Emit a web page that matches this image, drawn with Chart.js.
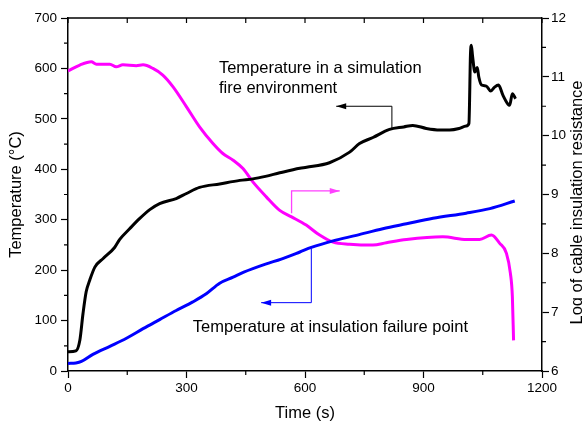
<!DOCTYPE html>
<html>
<head>
<meta charset="utf-8">
<script src="https://cdn.jsdelivr.net/npm/chart.js@4/dist/chart.umd.min.js"></script>
<style>
  body { margin: 0; background: #fff; }
  canvas { display: block; }
</style>
</head>
<body>
<canvas id="chart-fire" width="582" height="424"></canvas>
<script>
// Temperature in a simulation fire environment (left axis, deg C)
var fireTime = [0, 20, 30, 38, 46, 55, 68, 89, 118, 131, 156, 181, 207, 232, 274, 300, 333, 384, 435, 468, 500, 536, 587, 604, 662, 713, 738, 772, 814, 850, 873, 907, 941, 966, 990, 1008, 1015, 1019, 1021, 1024, 1030, 1036, 1040, 1047, 1059, 1070, 1080, 1090, 1101, 1114, 1118, 1125, 1133];
var fireTemp = [38, 40, 61, 114, 157, 180, 206, 223, 245, 261, 282, 302, 320, 332, 342, 352, 364, 371, 378, 381, 386, 393, 402, 404, 413, 434, 451, 463, 479, 484, 487, 481, 478, 478, 481, 486, 491, 630, 646, 626, 593, 602, 583, 567, 565, 555, 563, 567, 547, 529, 527, 550, 540];

// Temperature at insulation failure point (left axis, deg C)
var failTime = [0, 20, 34, 63, 106, 148, 190, 232, 274, 316, 350, 384, 418, 445, 500, 540, 587, 616, 671, 730, 797, 857, 924, 1008, 1068, 1131];
var failTemp = [15, 16, 19, 33, 49, 65, 84, 102, 120, 137, 153, 174, 186, 196, 212, 222, 236, 245, 258, 269, 282, 292, 303, 313, 322, 337];

// Log of cable insulation resistance (right axis)
var resTime = [0, 30, 59, 72, 106, 122, 139, 173, 190, 215, 240, 266, 300, 333, 367, 392, 418, 443, 468, 502, 536, 566, 603, 637, 671, 713, 772, 806, 857, 949, 1009, 1042, 1072, 1093, 1110, 1120, 1125, 1128];
var resLog = [11.1, 11.2, 11.255, 11.216, 11.216, 11.17, 11.204, 11.19, 11.204, 11.143, 11.03, 10.83, 10.49, 10.15, 9.867, 9.697, 9.583, 9.44, 9.214, 8.96, 8.73, 8.62, 8.48, 8.31, 8.19, 8.155, 8.14, 8.18, 8.235, 8.28, 8.235, 8.235, 8.31, 8.17, 8.0, 7.66, 7.26, 6.52];

var xTicks = [0, 300, 600, 900, 1200];
var leftTicks = [0, 100, 200, 300, 400, 500, 600, 700];
var rightTicks = [6, 7, 8, 9, 10, 11, 12];

function toPoints(xs, ys) {
    return xs.map(function (x, i) { return { x: x, y: ys[i] }; });
}

var FONT = 'Arial, "Liberation Sans", sans-serif';

// extra bits: top border, minor ticks, annotation texts/arrows, right axis title
var extras = {
    id: 'extras',
    afterDraw: function (chart) {
        var ctx = chart.ctx;
        var a = chart.chartArea;
        var sx = chart.scales.x, sy = chart.scales.y, sr = chart.scales.y2;
        ctx.save();
        ctx.strokeStyle = '#000';
        ctx.lineWidth = 1.5;
        ctx.beginPath();
        ctx.moveTo(a.left, a.top);
        ctx.lineTo(a.right, a.top);
        ctx.stroke();

        ctx.lineWidth = 1.2;
        ctx.beginPath();
        for (var t = 0; t <= 1200; t += 150) {
            var px = sx.getPixelForValue(t);
            ctx.moveTo(px, a.top);
            ctx.lineTo(px, a.top + 5);
            if (t % 300 !== 0) {
                ctx.moveTo(px, a.bottom);
                ctx.lineTo(px, a.bottom + 4);
            }
        }
        for (var v = 50; v < 700; v += 100) {
            var py = sy.getPixelForValue(v);
            ctx.moveTo(a.left, py);
            ctx.lineTo(a.left - 4, py);
        }
        for (var r = 6.5; r < 12; r += 1) {
            var pr = sr.getPixelForValue(r);
            ctx.moveTo(a.right, pr);
            ctx.lineTo(a.right + 4, pr);
        }
        ctx.stroke();

        function arrow(color, pts, width) {
            ctx.strokeStyle = color;
            ctx.fillStyle = color;
            ctx.lineWidth = width;
            ctx.beginPath();
            ctx.moveTo(pts[0][0], pts[0][1]);
            for (var i = 1; i < pts.length; i++) ctx.lineTo(pts[i][0], pts[i][1]);
            ctx.stroke();
            var p1 = pts[pts.length - 2], p2 = pts[pts.length - 1];
            var ang = Math.atan2(p2[1] - p1[1], p2[0] - p1[0]);
            ctx.beginPath();
            ctx.moveTo(p2[0], p2[1]);
            ctx.lineTo(p2[0] - 10 * Math.cos(ang) + 3 * Math.sin(ang), p2[1] - 10 * Math.sin(ang) - 3 * Math.cos(ang));
            ctx.lineTo(p2[0] - 10 * Math.cos(ang) - 3 * Math.sin(ang), p2[1] - 10 * Math.sin(ang) + 3 * Math.cos(ang));
            ctx.closePath();
            ctx.fill();
        }
        var X = function (t) { return sx.getPixelForValue(t); };
        var Y = function (v) { return sy.getPixelForValue(v); };
        var R = function (v) { return sr.getPixelForValue(v); };

        arrow('#000', [[X(820), Y(481)], [X(820), Y(525)], [X(679), Y(525)]], 1);
        arrow('#ff40ff', [[X(566), R(8.68)], [X(566), R(9.06)], [X(688), R(9.06)]], 1.3);
        arrow('#0000ff', [[X(616), Y(243)], [X(616), Y(135.5)], [X(489), Y(135.5)]], 1);

        ctx.fillStyle = '#000';
        ctx.font = '16.5px ' + FONT;
        ctx.textAlign = 'left';
        ctx.textBaseline = 'alphabetic';
        ctx.fillText('Temperature in a simulation', X(382), Y(590));
        ctx.fillText('fire environment', X(382), Y(551));
        ctx.fillText('Temperature at insulation failure point', X(316), Y(77));

        ctx.translate(577, (a.top + a.bottom) / 2 + 8);
        ctx.rotate(-Math.PI / 2);
        ctx.textAlign = 'center';
        ctx.textBaseline = 'middle';
        ctx.fillText('Log of cable insulation resistance', 0, 0);
        ctx.restore();
    }
};

function plainLabel(value) {
    return String(value);
}

function drawFireChart() {
    var ctx = document.getElementById('chart-fire').getContext('2d');
    var tickFont = { family: FONT, size: 13.5 };
    var titleFont = { family: FONT, size: 16.5 };
    var chart = new Chart(ctx, {
        type: 'line',
        data: {
            datasets: [{
                label: 'Temperature in a simulation fire environment',
                data: toPoints(fireTime, fireTemp),
                borderColor: '#000000',
                yAxisID: 'y'
            }, {
                label: 'Temperature at insulation failure point',
                data: toPoints(failTime, failTemp),
                borderColor: '#0000ff',
                yAxisID: 'y'
            }, {
                label: 'Log of cable insulation resistance',
                data: toPoints(resTime, resLog),
                borderColor: '#ff00ff',
                yAxisID: 'y2'
            }]
        },
        options: {
            responsive: false,
            animation: false,
            devicePixelRatio: 1,
            layout: { padding: { top: 18 } },
            elements: {
                point: { radius: 0 },
                line: { borderWidth: 3, tension: 0.3, cubicInterpolationMode: 'monotone', fill: false }
            },
            plugins: { legend: { display: false }, tooltip: { enabled: false } },
            scales: {
                x: {
                    type: 'linear', min: 0, max: 1200,
                    afterBuildTicks: function (s) { s.ticks = xTicks.map(function (v) { return { value: v }; }); },
                    afterFit: function (s) { s.height = 53; },
                    ticks: { font: tickFont, color: '#000', padding: 2, maxRotation: 0, callback: plainLabel },
                    grid: { drawOnChartArea: false, drawTicks: true, tickLength: 7, tickColor: '#000', tickWidth: 1.2 },
                    border: { color: '#000', width: 1.5 },
                    title: { display: true, text: 'Time (s)', font: titleFont, color: '#000', padding: { top: 0, bottom: 1 } }
                },
                y: {
                    position: 'left', min: 0, max: 700,
                    afterBuildTicks: function (s) { s.ticks = leftTicks.map(function (v) { return { value: v }; }); },
                    afterFit: function (s) { s.width = 68; },
                    ticks: { font: tickFont, color: '#000', padding: 4, callback: plainLabel },
                    grid: { drawOnChartArea: false, drawTicks: true, tickLength: 7, tickColor: '#000', tickWidth: 1.2 },
                    border: { color: '#000', width: 1.5 },
                    title: { display: true, text: 'Temperature (°C)', font: titleFont, color: '#000', padding: { top: 7, bottom: 0 } }
                },
                y2: {
                    position: 'right', min: 6, max: 12,
                    afterBuildTicks: function (s) { s.ticks = rightTicks.map(function (v) { return { value: v }; }); },
                    afterFit: function (s) { s.width = 40; },
                    ticks: { font: tickFont, color: '#000', padding: 2, callback: plainLabel },
                    grid: { drawOnChartArea: false, drawTicks: true, tickLength: 7, tickColor: '#000', tickWidth: 1.2 },
                    border: { color: '#000', width: 1.5 }
                }
            }
        },
        plugins: [extras]
    });
}

drawFireChart();
</script>
</body>
</html>
